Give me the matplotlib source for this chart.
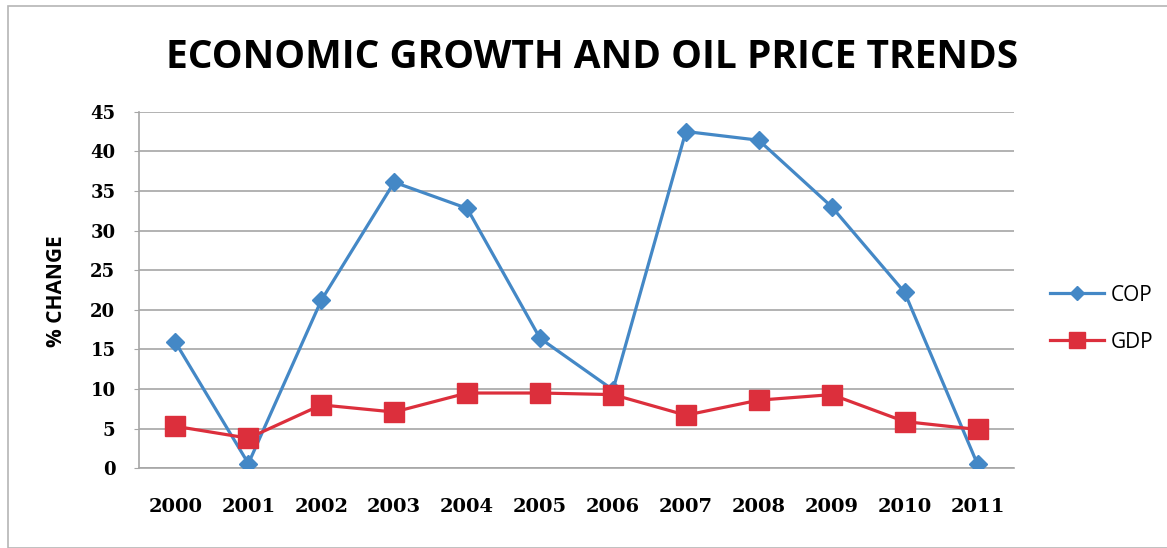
import matplotlib
matplotlib.use("Agg")
import matplotlib.pyplot as plt
from matplotlib.patches import Rectangle

years = ["2000", "2001", "2002", "2003", "2004", "2005", "2006", "2007", "2008", "2009", "2010", "2011"]
cop = [15.9, 0.6, 21.2, 36.1, 32.8, 16.4, 9.9, 42.5, 41.4, 33.0, 22.2, 0.5]
gdp = [5.3, 3.8, 8.0, 7.1, 9.5, 9.5, 9.3, 6.7, 8.6, 9.3, 5.9, 4.9]
yticks = [0, 5, 10, 15, 20, 25, 30, 35, 40, 45]

title = "ECONOMIC GROWTH AND OIL PRICE TRENDS"
ylabel = "% CHANGE"

fig = plt.figure(figsize=(11.67, 5.48), dpi=100)
fig.patch.set_facecolor("white")
fig.patches.append(Rectangle((8 / 1167, 0.5 / 548), 1.2, 1 - 5.5 / 548 - 0.5 / 548,
                             transform=fig.transFigure, fill=False,
                             edgecolor="#b5b5b5", linewidth=1.2))

ax = fig.add_axes([139 / 1167, 1 - 468.3 / 548, (1014 - 139) / 1167, (468.3 - 111.7) / 548])
x = list(range(len(years)))
ax.plot(x, cop, color="#4488C6", linewidth=2.3, marker="D", markersize=9, label="COP", zorder=3)
ax.plot(x, gdp, color="#DC2F3C", linewidth=2.3, marker="s", markersize=14, label="GDP", zorder=4)

ax.set_xlim(-0.5, len(years) - 0.5)
ax.set_ylim(0, 45)
ax.set_yticks(yticks)
ax.set_yticklabels([str(v) for v in yticks], fontfamily="DejaVu Serif", fontweight="bold", fontsize=13)
ax.set_xticks(x)
ax.set_xticklabels(years, fontfamily="DejaVu Serif", fontweight="bold", fontsize=14)
ax.yaxis.grid(True, color="#a6a6a6", linewidth=1.2)
ax.set_axisbelow(True)
for s in ["top", "right"]:
    ax.spines[s].set_visible(False)
for s in ["left", "bottom"]:
    ax.spines[s].set_color("#a6a6a6")
    ax.spines[s].set_linewidth(1.2)
ax.tick_params(axis="y", length=3.5, color="#a6a6a6", pad=13.5)
ax.tick_params(axis="x", length=0, pad=21.5)

fig.text(592 / 1167, 1 - 57 / 548, title, ha="center", va="center",
         fontsize=28, fontweight="bold", fontfamily="Open Sans", color="black")
fig.text(57 / 1167, 1 - 291 / 548, ylabel, ha="center", va="center", rotation=90,
         fontsize=15, fontweight="bold", fontfamily="Open Sans", color="black")

leg = ax.legend(loc="center left", bbox_to_anchor=(1.02, 0.42), frameon=False,
                prop={"family": "Open Sans", "size": 15}, labelspacing=1.25,
                handlelength=2.6, handletextpad=0.3, markerscale=0.8)

fig.savefig("out.png", dpi=100, facecolor="white")
